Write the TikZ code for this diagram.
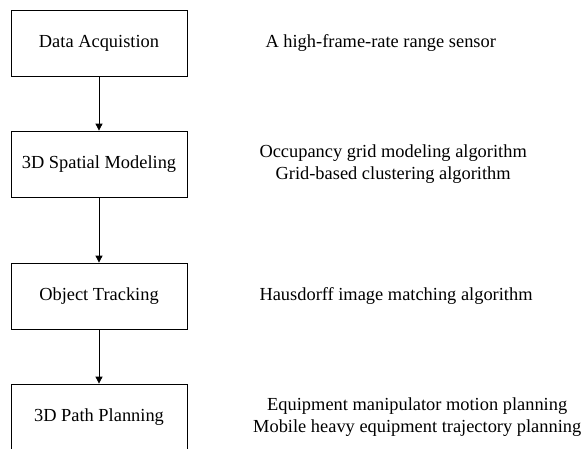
\documentclass[tikz,border=0pt]{standalone}
\usepackage{fontspec}
\setmainfont{Liberation Serif}
\usetikzlibrary{arrows.meta}

\begin{document}
\begin{tikzpicture}[x=1pt, y=-1pt,
    stage/.style={draw, line width=0.8pt, minimum width=176pt, minimum height=66pt,
        font=\fontsize{18.4}{21.5}\selectfont},
    method/.style={anchor=west, align=center, font=\fontsize{18.4}{21.5}\selectfont},
    flow/.style={line width=0.8pt, -{Triangle[length=7pt, width=7pt]}}]
    % Page frame, last box runs off the bottom
    \clip (0, 0) rectangle (585, 448);

    % Pipeline stages
    \node[stage] (acq) at (99, 43) {Data Acquistion};
    \node[stage] (model) at (99, 164) {3D Spatial Modeling};
    \node[stage] (track) at (99, 296) {Object Tracking};
    \node[stage] (plan) at (99, 417) {3D Path Planning};

    % Methods used in each stage
    \node[method] (acqtxt) at (262, 43) {A high-frame-rate range sensor};
    \node[method] (modeltxt) at (256, 164) {Occupancy grid modeling algorithm\\Grid-based clustering algorithm};
    \node[method] (tracktxt) at (256, 296) {Hausdorff image matching algorithm};
    \node[method, inner xsep=0pt] (plantxt) at (253, 417) {Equipment manipulator motion planning\\Mobile heavy equipment trajectory planning};

    % Arrows between stages
    \draw[flow] (acq) -- (model);
    \draw[flow] (model) -- (track);
    \draw[flow] (track) -- (plan);
\end{tikzpicture}
\end{document}
